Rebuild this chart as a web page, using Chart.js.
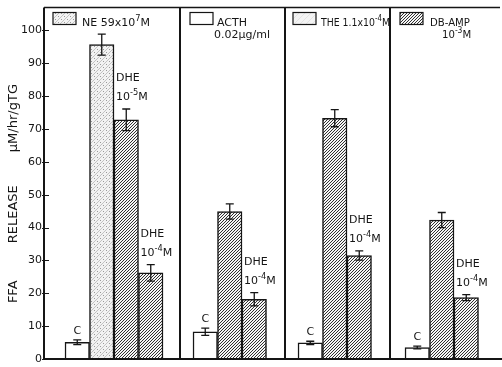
<!DOCTYPE html>
<html>
<head>
<meta charset="utf-8">
<script src="https://cdn.jsdelivr.net/npm/chart.js@4.4.0/dist/chart.umd.min.js"></script>
<style>
  html, body { margin: 0; padding: 0; background: #fff; }
  #wrap { width: 502px; height: 367px; }
</style>
</head>
<body>
<div id="wrap"><canvas id="ffaChart" width="502" height="367"></canvas></div>
<script>
// FFA release (µM/hr/g TG), one entry per bar
const barLabels = ['C', 'NE', 'DHE 10-5', 'DHE 10-4', 'C', 'ACTH', 'DHE 10-4', 'C', 'THE', 'DHE 10-4', 'C', 'DB-AMP', 'DHE 10-4'];
const barPanel = [0, 0, 0, 0, 1, 1, 1, 2, 2, 2, 3, 3, 3];
const ffaRelease = [5.1, 95.7, 72.8, 26.2, 8.3, 44.9, 18.2, 4.9, 73.3, 31.5, 3.5, 42.3, 18.7];
const ffaError = [0.7, 3.2, 3.3, 2.5, 1.1, 2.3, 2.0, 0.5, 2.6, 1.4, 0.4, 2.3, 0.9];
const yTicks = [0, 10, 20, 30, 40, 50, 60, 70, 80, 90, 100];

// text written next to the bars and in the panel keys (^...^ = superscript)
const barNotes = [['C'], [], ['DHE', '10^-5^M'], ['DHE', '10^-4^M'], ['C'], [], ['DHE', '10^-4^M'],
    ['C'], [], ['DHE', '10^-4^M'], ['C'], [], ['DHE', '10^-4^M']];
const panelKeys = [['NE 59x10^7^M'], ['ACTH', '0.02µg/ml'], ['THE 1.1x10^-4^M'], ['DB-AMP', '10^-3^M']];

// --- layout (x units = pixels right of the y axis) ---
const BAR_W = 24.5;
const panelLeft = [0, 136, 241, 346];
const panelBarStart = [21, 149, 254, 361];
const keyLayout = [
    { box: 9, text: 38, line2: 38, squeeze: 1 },
    { box: 10, text: 37, line2: 34, squeeze: 1 },
    { box: 8, text: 36, line2: 36, squeeze: 0.85 },
    { box: 10, text: 40, line2: 52, squeeze: 0.92 }
];
const FONT = '"DejaVu Sans", sans-serif';
const INK = '#151515';

// --- fills ---
function makePattern(kind) {
    const c = document.createElement('canvas');
    const s = kind === 'hatch' ? 3 : 6;
    c.width = s; c.height = s;
    const g = c.getContext('2d');
    g.fillStyle = kind === 'hatch' ? '#f6f6f6' : '#f3f3f3';
    g.fillRect(0, 0, s, s);
    if (kind === 'hatch') {
        g.strokeStyle = '#262626';
        g.lineWidth = 0.95;
    } else if (kind === 'stipple') {
        g.strokeStyle = '#bdbdbd';
        g.lineWidth = 0.9;
    } else {
        g.strokeStyle = '#d8d8d8';
        g.lineWidth = 0.6;
    }
    g.beginPath();
    for (let o = -s; o <= s; o += s) {
        g.moveTo(o, s); g.lineTo(o + s, 0);
    }
    g.stroke();
    if (kind === 'stipple') {
        g.fillStyle = '#9a9a9a';
        g.fillRect(1, 1, 1, 1);
        g.fillRect(4, 4, 1, 1);
    }
    return g.createPattern(c, 'repeat');
}
const fills = {
    open: '#ffffff',
    hatch: makePattern('hatch'),
    stipple: makePattern('stipple'),
    light: makePattern('light')
};
function barFill(label) {
    if (label === 'C') return fills.open;
    if (label === 'NE') return fills.stipple;
    return fills.hatch;
}
const keyFills = [fills.stipple, fills.open, fills.light, fills.hatch];

// x position of each bar from its panel and its place in the panel
const barX = barLabels.map((_, i) => {
    const p = barPanel[i];
    const k = barPanel.slice(0, i).filter(q => q === p).length;
    return panelBarStart[p] + (k + 0.5) * BAR_W;
});

function drawRich(ctx, x, y, str, size, squeeze) {
    ctx.save();
    ctx.translate(x, y);
    ctx.scale(squeeze || 1, 1);
    let cx = 0;
    str.split('^').forEach((part, n) => {
        const sup = n % 2 === 1;
        ctx.font = (sup ? size * 0.75 : size) + 'px ' + FONT;
        ctx.fillText(part, cx, sup ? -size * 0.42 : 0);
        cx += ctx.measureText(part).width;
    });
    ctx.restore();
}

const figurePlugin = {
    id: 'figure',
    afterDatasetsDraw(chart) {
        const { ctx, chartArea: a, scales: { x, y } } = chart;
        ctx.save();
        ctx.strokeStyle = INK;
        ctx.fillStyle = INK;

        // frame and panel dividers
        ctx.lineWidth = 2;
        ctx.beginPath();
        ctx.moveTo(a.left, a.top); ctx.lineTo(a.left, a.bottom + 1);
        ctx.moveTo(a.left - 1, a.bottom); ctx.lineTo(a.right, a.bottom);
        panelLeft.slice(1).forEach(v => {
            const px = x.getPixelForValue(v);
            ctx.moveTo(px, a.top); ctx.lineTo(px, a.bottom);
        });
        ctx.stroke();
        ctx.lineWidth = 1.5;
        ctx.beginPath();
        ctx.moveTo(a.left, a.top); ctx.lineTo(a.right - 2, a.top);
        ctx.stroke();

        // y ticks pointing inward
        ctx.lineWidth = 1.2;
        ctx.beginPath();
        yTicks.forEach(v => {
            const py = Math.round(y.getPixelForValue(v)) + 0.5;
            ctx.moveTo(a.left - 2, py); ctx.lineTo(a.left + 5, py);
        });
        ctx.stroke();

        // error bars and notes
        const meta = chart.getDatasetMeta(0);
        meta.data.forEach((bar, i) => {
            const top = y.getPixelForValue(ffaRelease[i] + ffaError[i]);
            const bot = y.getPixelForValue(ffaRelease[i] - ffaError[i]);
            ctx.lineWidth = 1.3;
            ctx.beginPath();
            ctx.moveTo(bar.x, top); ctx.lineTo(bar.x, bot);
            ctx.moveTo(bar.x - 4, top); ctx.lineTo(bar.x + 4, top);
            ctx.moveTo(bar.x - 4, bot); ctx.lineTo(bar.x + 4, bot);
            ctx.stroke();

            const note = barNotes[i];
            ctx.textBaseline = 'alphabetic';
            if (note.length === 1) {
                ctx.textAlign = 'center';
                ctx.font = '11px ' + FONT;
                ctx.fillText(note[0], bar.x, top - 6);
            } else if (note.length === 2) {
                ctx.textAlign = 'left';
                const lx = bar.x - BAR_W / 2 + 2;
                drawRich(ctx, lx, top - 28, note[0], 11);
                drawRich(ctx, lx, top - 9, note[1], 11);
            }
        });

        // panel keys
        panelKeys.forEach((lines, p) => {
            const L = keyLayout[p];
            const left = x.getPixelForValue(panelLeft[p]);
            ctx.fillStyle = keyFills[p];
            ctx.fillRect(left + L.box, 12.5, 23, 12);
            ctx.lineWidth = 1.2;
            ctx.strokeRect(left + L.box, 12.5, 23, 12);
            ctx.fillStyle = INK;
            ctx.textAlign = 'left';
            drawRich(ctx, left + L.text, 26, lines[0], 11, L.squeeze);
            if (lines[1]) drawRich(ctx, left + L.line2, 38, lines[1], 11, L.squeeze);
        });
        ctx.restore();
    }
};

const ctx = document.getElementById('ffaChart').getContext('2d');
new Chart(ctx, {
    type: 'bar',
    data: {
        datasets: [{
            data: barLabels.map((_, i) => ({ x: barX[i], y: ffaRelease[i] })),
            backgroundColor: barLabels.map(barFill),
            borderColor: INK,
            borderWidth: 1.5,
            borderSkipped: 'bottom',
            barThickness: BAR_W,
            grouped: false
        }]
    },
    options: {
        responsive: false,
        animation: false,
        events: [],
        layout: { padding: { top: 6, bottom: 8, left: 0, right: 0 } },
        plugins: { legend: { display: false }, tooltip: { enabled: false } },
        scales: {
            x: { type: 'linear', min: 0, max: 458, offset: false, display: false },
            y: {
                min: 0,
                max: 107,
                afterBuildTicks: s => { s.ticks = yTicks.map(v => ({ value: v })); },
                afterFit: s => { s.width = 44; },
                grid: { display: false, drawTicks: false },
                border: { display: false },
                ticks: {
                    color: INK,
                    padding: 2,
                    font: { family: FONT, size: 11, lineHeight: 1 }
                },
                title: {
                    display: true,
                    text: 'FFA         RELEASE        µM/hr/gTG     ',
                    color: INK,
                    padding: { top: 6, bottom: 0 },
                    font: { family: FONT, size: 13 }
                }
            }
        }
    },
    plugins: [figurePlugin]
});
</script>
</body>
</html>
